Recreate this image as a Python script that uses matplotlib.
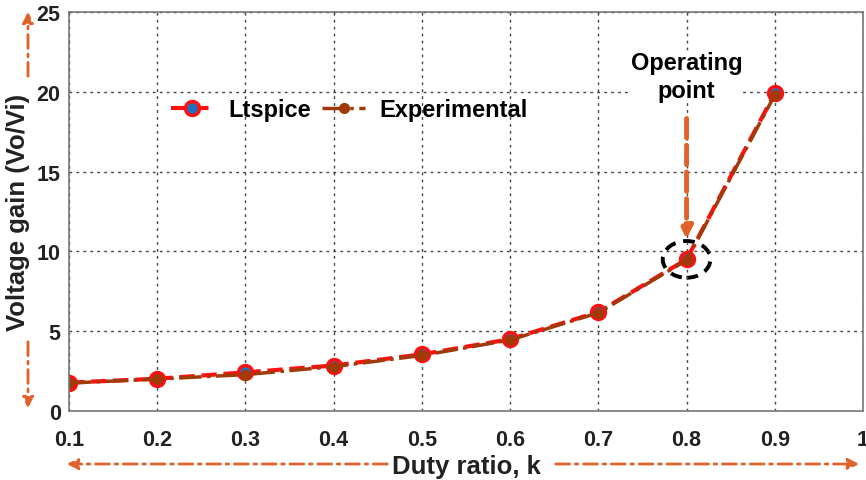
import matplotlib.pyplot as plt
from matplotlib.patches import Ellipse

plt.rcParams['font.family'] = ['Liberation Sans', 'DejaVu Sans']
plt.rcParams['font.weight'] = 'bold'

# Werte
k = [0.1, 0.2, 0.3, 0.4, 0.5, 0.6, 0.7, 0.8, 0.9]
gain_ltspice = [1.78, 2.02, 2.42, 2.85, 3.55, 4.5, 6.2, 9.5, 19.9]
gain_exp = [1.75, 2.0, 2.28, 2.78, 3.48, 4.45, 6.15, 9.45, 19.8]

x_ticks = [0.1, 0.2, 0.3, 0.4, 0.5, 0.6, 0.7, 0.8, 0.9, 1]
x_ticklabels = ['0.1', '0.2', '0.3', '0.4', '0.5', '0.6', '0.7', '0.8', '0.9', '1']
y_ticks = [0, 5, 10, 15, 20, 25]

orange = '#E0622A'
braun = '#A03A08'

fig = plt.figure(figsize=(8.66, 4.81), dpi=100)
ax = fig.add_axes([69/866, 1-412/481, (863-69)/866, (412-13)/481])

ax.plot(k, gain_ltspice, '--o', color='#FF1010', lw=3, markersize=10,
        markerfacecolor='#2070C0', markeredgecolor='#FF1010', markeredgewidth=2.5, label='Ltspice')
ax.plot(k, gain_exp, '-.o', color=braun, lw=2.5, markersize=7,
        markerfacecolor=braun, markeredgecolor=braun, label='Experimental')

ax.set_xlim(0.1, 1)
ax.set_ylim(0, 25)
ax.set_xticks(x_ticks)
ax.set_xticklabels(x_ticklabels)
ax.set_yticks(y_ticks)
ax.tick_params(labelsize=15.5, length=0)
ax.tick_params(axis='x', pad=13)
ax.tick_params(axis='y', pad=6)
for lab in ax.get_xticklabels() + ax.get_yticklabels():
    lab.set_fontweight('bold')
    lab.set_color('#222222')
ax.grid(True, ls=(0, (2, 3)), color='#444444', lw=1)
for s in ax.spines.values():
    s.set_color('#777777')
    s.set_linewidth(1.2)

ax.set_xlabel('Duty ratio, k', fontsize=18.5, fontweight='bold', color='#222222', labelpad=3)
ax.set_ylabel('Voltage gain (Vo/Vi)', fontsize=18.5, fontweight='bold', color='#222222', labelpad=5)

leg = ax.legend(loc='center left', bbox_to_anchor=(0.102, 0.756), ncol=2, frameon=False,
                prop={'size': 17, 'weight': 'bold'}, handlelength=1.8, handletextpad=0.6,
                columnspacing=0.5)

# Operating point
ax.text(0.8, 20.95, 'Operating\npoint', ha='center', va='center', fontsize=17, fontweight='bold',
        linespacing=1.25, bbox=dict(facecolor='white', edgecolor='none', pad=0))
ax.annotate('', xy=(0.8, 10.6), xytext=(0.8, 18.5),
            arrowprops=dict(arrowstyle='-|>', color=orange, lw=3.5, ls=(0, (4, 1.5)), mutation_scale=18))
ax.add_patch(Ellipse((0.8, 9.5), 0.054, 2.3, fill=False, ec='black', lw=2.8, ls=(0, (3, 2))))

# Pfeile neben den Achsenbeschriftungen
def pfeil(x0, y0, x1, y1):
    ax.annotate('', xy=(x1/866, 1-y1/481), xytext=(x0/866, 1-y0/481),
                xycoords='figure fraction', textcoords='figure fraction',
                arrowprops=dict(arrowstyle='-|>', color=orange, lw=2, ls=(0, (5, 2, 1, 2)),
                                mutation_scale=16), annotation_clip=False)

pfeil(28, 80, 28, 10)
pfeil(28, 340, 28, 412)
pfeil(390, 465, 64, 465)
pfeil(553, 465, 862, 465)

fig.savefig('out.png', dpi=100)
